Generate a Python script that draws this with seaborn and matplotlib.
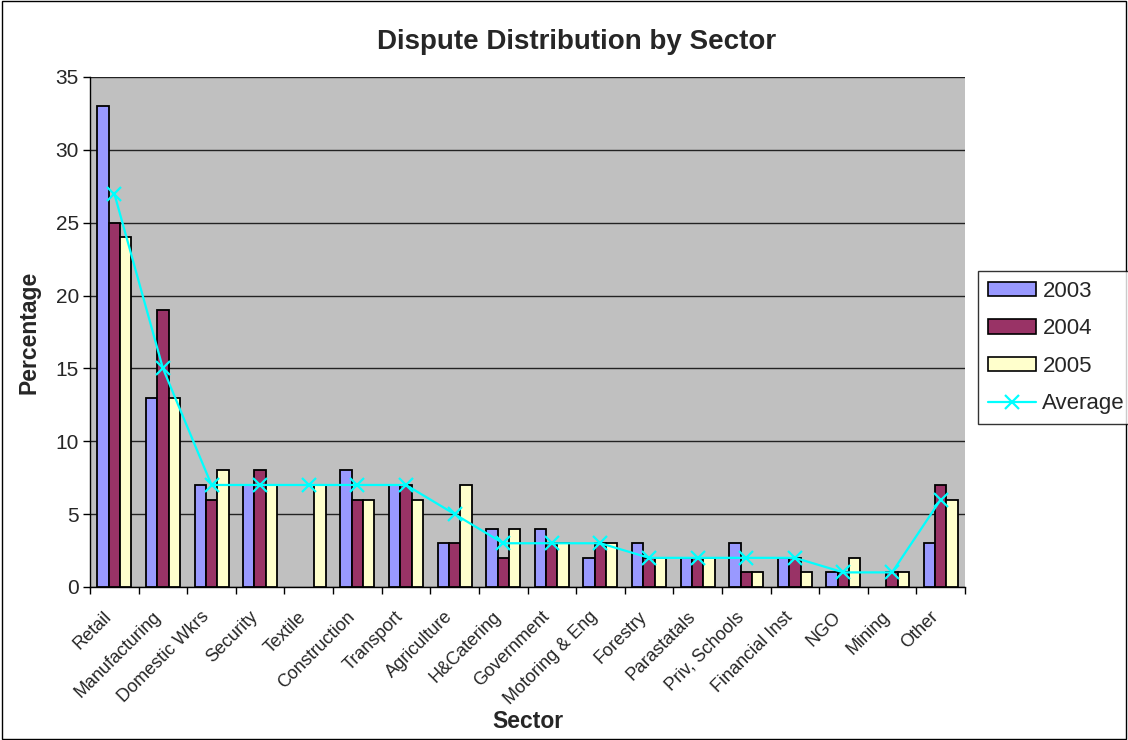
import matplotlib
matplotlib.use("Agg")
import matplotlib.pyplot as plt
import matplotlib.transforms as mtransforms
import numpy as np
import pandas as pd
import seaborn as sns
from matplotlib.patches import Rectangle
from matplotlib.lines import Line2D

sectors = ["Retail", "Manufacturing", "Domestic Wkrs", "Security", "Textile",
           "Construction", "Transport", "Agriculture", "H&Catering", "Government",
           "Motoring & Eng", "Forestry", "Parastatals", "Priv, Schools",
           "Financial Inst", "NGO", "Mining", "Other"]
y2003 = [33, 13, 7, 7, 0, 8, 7, 3, 4, 4, 2, 3, 2, 3, 2, 1, 0, 3]
y2004 = [25, 19, 6, 8, 0, 6, 7, 3, 2, 3, 3, 2, 2, 1, 2, 1, 1, 7]
y2005 = [24, 13, 8, 7, 7, 6, 6, 7, 4, 3, 3, 2, 2, 1, 1, 2, 1, 6]
average = [27, 15, 7, 7, 7, 7, 7, 5, 3, 3, 3, 2, 2, 2, 2, 1, 1, 6]
years = ["2003", "2004", "2005"]
year_colors = ["#9999FF", "#993366", "#FFFFCC"]

df = pd.DataFrame({"Sector": sectors * 3,
                   "Year": np.repeat(years, len(sectors)),
                   "Percentage": y2003 + y2004 + y2005})

sns.set_theme(style="white")
plt.rcParams["font.family"] = ["Liberation Sans", "DejaVu Sans"]

fig = plt.figure(figsize=(11.28, 7.4), dpi=100)
ax = fig.add_axes([0.0798, 0.2068, 0.7757, 0.6892])
ax.set_facecolor("#C0C0C0")

sns.barplot(data=df, x="Sector", y="Percentage", hue="Year", order=sectors,
            hue_order=years, palette=year_colors, width=0.7, gap=0,
            edgecolor="black", linewidth=1.3, saturation=1, ax=ax,
            legend=False, zorder=3)
# empty bars leave no outline on the baseline
for p in ax.patches:
    if p.get_height() == 0:
        p.set_visible(False)

x = np.arange(len(sectors))
ax.plot(x, average, color="#00FFFF", lw=1.6, marker="x", ms=10, mew=1.6,
        zorder=4)

ax.set_xlim(-0.5, len(sectors) - 0.5)
ax.set_ylim(0, 35)
ax.set_yticks(range(0, 36, 5))
ax.yaxis.grid(True, color="#222222", lw=1)
ax.set_axisbelow(True)
for s in ["top", "right"]:
    ax.spines[s].set_visible(False)
for s in ["left", "bottom"]:
    ax.spines[s].set_color("black")
    ax.spines[s].set_linewidth(1)

# tick marks between categories, labels centred on each group
ax.set_xticks(np.arange(-0.5, len(sectors), 1))
ax.set_xticklabels([])
ax.set_xticks(x, minor=True)
ax.set_xticklabels(sectors, minor=True, rotation=45, ha="right",
                   rotation_mode="anchor", fontsize=13)
ax.tick_params(axis="x", which="minor", length=0, pad=6)
ax.tick_params(axis="x", which="major", direction="out", length=5,
               width=1, color="black", bottom=True)
ax.tick_params(axis="y", direction="out", length=5, width=1,
               color="black", left=True, labelsize=15, pad=3)
shift = mtransforms.ScaledTranslation(-0.11, -0.13, fig.dpi_scale_trans)
for lab in ax.get_xticklabels(minor=True):
    lab.set_transform(lab.get_transform() + shift)

fig.text(0.511, 0.943, "Dispute Distribution by Sector", fontsize=20,
         fontweight="bold", ha="center", va="center")
ax.set_ylabel("Percentage", fontsize=16.5, fontweight="bold")
ax.yaxis.set_label_coords(-0.057, 0.5)
ax.set_xlabel("Sector", fontsize=16.5, fontweight="bold")
ax.xaxis.set_label_coords(0.5, -0.242)

handles = [Rectangle((0, 0), 1, 1, facecolor=c, edgecolor="black", lw=1.2)
           for c in year_colors]
handles.append(Line2D([], [], color="#00FFFF", lw=1.6, marker="x", ms=10,
                      mew=1.6))
leg = fig.legend(handles, years + ["Average"], loc="upper left",
                 bbox_to_anchor=(0.867, 0.634), fontsize=16, frameon=True,
                 fancybox=False, edgecolor="black", borderpad=0.45,
                 labelspacing=0.74, handlelength=2.15, handleheight=0.6,
                 handletextpad=0.3, borderaxespad=0)
leg.get_frame().set_linewidth(1)

fig.patches.append(Rectangle((0.0015, 0.002), 0.997, 0.996,
                             transform=fig.transFigure, fill=False,
                             edgecolor="black", lw=1))

fig.savefig("out.png", dpi=100)
